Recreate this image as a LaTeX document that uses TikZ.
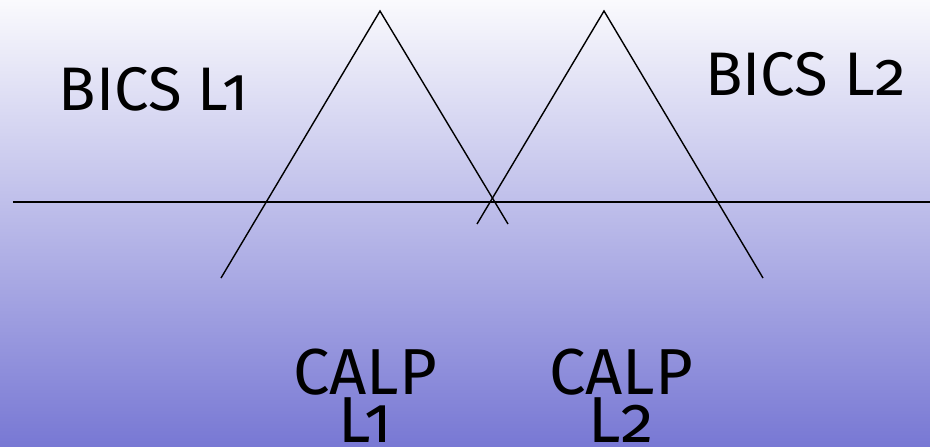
\documentclass[tikz,border=0pt]{standalone}
\usepackage{fontspec}
\setmainfont{Fira Sans}[Numbers=OldStyle]
\usepackage{xcolor}
\usepackage{tikz}
\definecolor{skytop}{RGB}{250,250,253}
\definecolor{skymid}{RGB}{220,220,241}
\definecolor{skybot}{RGB}{120,120,212}
\newcommand\calpfont{\fontsize{37}{27.5}\selectfont\setlength{\lineskiplimit}{-20pt}}

\begin{document}
\begin{tikzpicture}[x=1cm,y=1cm]
% background
\shade[top color=skytop,middle color=skymid,bottom color=skybot] (0,0) rectangle (18.6,-8.92);
\useasboundingbox (0,0) rectangle (18.6,-8.92);
\tikzset{leg/.style={line width=0.8pt,black}}
\tikzset{lbl/.style={anchor=base,inner sep=0pt,font=\fontsize{35}{35}\selectfont}}
\tikzset{lblbig/.style={anchor=south,inner sep=0pt,align=center,font=\calpfont}}
% apexes and feet
\coordinate (topA) at (7.60,-0.22);
\coordinate (footAl) at (4.42,-5.56);
\coordinate (footAr) at (10.16,-4.48);
\coordinate (topB) at (12.08,-0.22);
\coordinate (footBl) at (9.54,-4.48);
\coordinate (footBr) at (15.26,-5.56);
\coordinate (waterW) at (0.26,-4.04);
\coordinate (waterE) at (18.60,-4.04);
% the two peaks
\draw[leg] (footAl) -- (topA) -- (footAr);
\draw[leg] (footBl) -- (topB) -- (footBr);
% surface line
\draw[line width=1pt] (waterW) -- (waterE);
% labels
\node[lbl] (bicsA) at (3.07,-2.20) {BICS L1};
\node[lbl] (bicsB) at (16.11,-1.90) {BICS L2};
\node[lblbig] (calpA) at (7.30,-8.86) {CALP\\L1};
\node[lblbig] (calpB) at (12.42,-8.86) {CALP\\L2};
\end{tikzpicture}
\end{document}
